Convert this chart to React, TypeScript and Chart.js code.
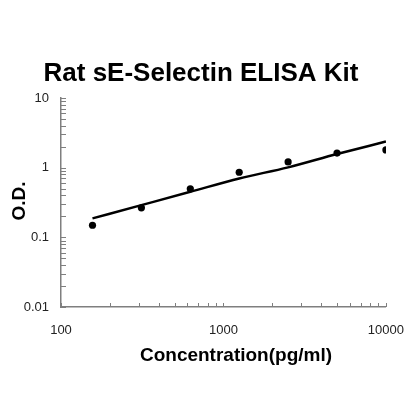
import { useEffect, useRef } from 'react';
import { Chart, registerables } from 'chart.js';

Chart.register(...registerables);

// standard concentrations (pg/ml)
const concentrations = [156.25, 312.5, 625, 1250, 2500, 5000, 10000];
// measured O.D. values
const odValues = [0.149, 0.265, 0.498, 0.859, 1.21, 1.62, 1.8];
// fitted curve read at the same concentrations
const fitValues = [0.187, 0.29, 0.45, 0.7, 1.01, 1.57, 2.37];

const xTicks = [100, 1000, 10000];
const yTicks = [0.01, 0.1, 1, 10];

const titleText = 'Rat sE-Selectin ELISA Kit';
const xTitle = 'Concentration(pg/ml)';
const yTitle = 'O.D.';

const AXIS_COLOR = '#7f7f7f';

// small tick marks drawn inside the plot, like the original spreadsheet chart
const innerTicks = {
  id: 'innerTicks',
  afterDraw(chart: any) {
    const { ctx, scales } = chart;
    const x = scales.x;
    const y = scales.y;
    ctx.save();
    ctx.strokeStyle = AXIS_COLOR;
    ctx.lineWidth = 1;
    ctx.beginPath();
    for (let d = x.min; d < x.max; d *= 10) {
      for (let m = 1; m <= 10; m++) {
        const v = d * m;
        if (v > x.max) break;
        const px = Math.round(x.getPixelForValue(v)) + 0.5;
        ctx.moveTo(px, y.bottom);
        ctx.lineTo(px, y.bottom - 4);
      }
    }
    for (let d = y.min; d < y.max; d *= 10) {
      for (let m = 1; m <= 10; m++) {
        const v = d * m;
        if (v > y.max * 1.0001) break;
        const py = Math.round(y.getPixelForValue(v)) + 0.5;
        ctx.moveTo(x.left, py);
        ctx.lineTo(x.left + 5, py);
      }
    }
    ctx.stroke();
    ctx.restore();
  },
};

const chartTexts = {
  id: 'chartTexts',
  afterDraw(chart: any) {
    const { ctx } = chart;
    ctx.save();
    ctx.fillStyle = '#000';
    ctx.textAlign = 'center';
    ctx.textBaseline = 'middle';
    ctx.font = 'bold 26px Arial, "Liberation Sans", sans-serif';
    ctx.fillText(titleText, 201, 74);
    ctx.font = 'bold 19px Arial, "Liberation Sans", sans-serif';
    ctx.fillText(xTitle, 236, 356);
    ctx.translate(20, 201);
    ctx.rotate(-Math.PI / 2);
    ctx.fillText(yTitle, 0, 0);
    ctx.restore();
  },
};

export default function App() {
  const canvasRef = useRef(null as HTMLCanvasElement | null);
  const chartRef = useRef(null as any);

  useEffect(() => {
    if (!canvasRef.current) return;
    const ctx = canvasRef.current.getContext('2d');
    if (!ctx) return;
    if (chartRef.current) chartRef.current.destroy();

    const tickFont = { family: 'Arial, "Liberation Sans", sans-serif', size: 13 };

    chartRef.current = new Chart(ctx, {
      type: 'line',
      data: {
        datasets: [
          {
            label: 'Fit',
            data: concentrations.map((c, i) => ({ x: c, y: fitValues[i] })),
            borderColor: '#000',
            borderWidth: 2.5,
            pointRadius: 0,
            cubicInterpolationMode: 'monotone',
            fill: false,
          },
          {
            label: 'O.D.',
            data: concentrations.map((c, i) => ({ x: c, y: odValues[i] })),
            showLine: false,
            pointRadius: 3.6,
            pointBackgroundColor: '#000',
            pointBorderColor: '#000',
            pointBorderWidth: 0,
          },
        ],
      },
      options: {
        animation: false,
        responsive: true,
        maintainAspectRatio: false,
        layout: { padding: { top: 98, right: 31, left: 0, bottom: 0 } },
        plugins: {
          legend: { display: false },
          tooltip: { enabled: false },
          title: { display: false },
        },
        scales: {
          x: {
            type: 'logarithmic',
            min: 100,
            max: 10000,
            afterBuildTicks: (scale: any) => {
              scale.ticks = xTicks.map(v => ({ value: v }));
            },
            afterFit: (scale: any) => {
              scale.height = 113;
            },
            grid: { display: false, drawTicks: false },
            border: { display: true, color: AXIS_COLOR, width: 1.5 },
            ticks: {
              autoSkip: false,
              maxRotation: 0,
              padding: 16,
              color: '#222',
              font: tickFont,
              callback: (v: any) => String(v),
            },
          },
          y: {
            type: 'logarithmic',
            min: 0.01,
            max: 10,
            afterBuildTicks: (scale: any) => {
              scale.ticks = yTicks.map(v => ({ value: v }));
            },
            afterFit: (scale: any) => {
              scale.width = 61;
            },
            grid: { display: false, drawTicks: false },
            border: { display: true, color: AXIS_COLOR, width: 1.5 },
            ticks: {
              autoSkip: false,
              padding: 12,
              color: '#222',
              font: tickFont,
              callback: (v: any) => String(v),
            },
          },
        },
      },
      plugins: [innerTicks, chartTexts],
    });

    return () => {
      if (chartRef.current) {
        chartRef.current.destroy();
        chartRef.current = null;
      }
    };
  }, []);

  return (
    <div style={{ position: 'fixed', left: 0, top: 0, width: 420, height: 420, background: '#fff' }}>
      <canvas ref={canvasRef} />
    </div>
  );
}
